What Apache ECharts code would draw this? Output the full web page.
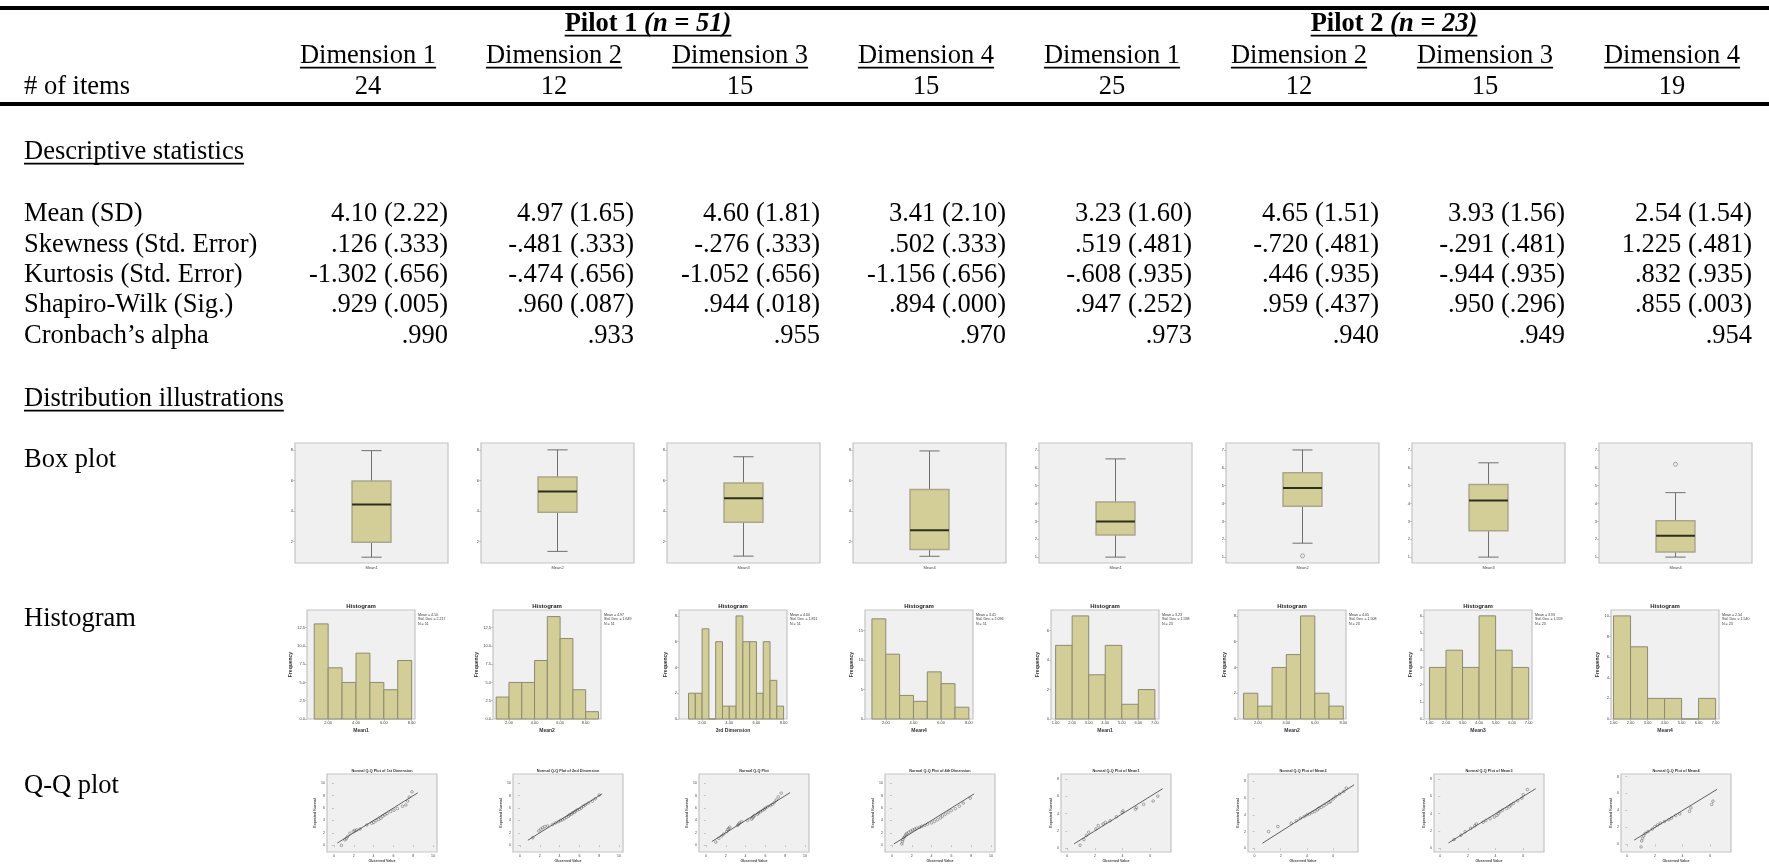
<!DOCTYPE html>
<html>
<head>
<meta charset="utf-8">
<script src="https://cdn.jsdelivr.net/npm/echarts@6/dist/echarts.min.js"></script>
<style>
  html, body { margin: 0; padding: 0; background: #ffffff; }
  #chart { width: 1769px; height: 864px; }
</style>
</head>
<body>
<div id="chart"></div>
<script>
// ---------- table data ----------
const pilotNames = ['Pilot 1', 'Pilot 2'];
const pilotN = [51, 23];
const dimensionNames = ['Dimension 1', 'Dimension 2', 'Dimension 3', 'Dimension 4',
                        'Dimension 1', 'Dimension 2', 'Dimension 3', 'Dimension 4'];
const itemCounts = [24, 12, 15, 15, 25, 12, 15, 19];
const rowLabels = ['Mean (SD)', 'Skewness (Std. Error)', 'Kurtosis (Std. Error)',
                   'Shapiro-Wilk (Sig.)', 'Cronbach\u2019s alpha'];
const means = [4.10, 4.97, 4.60, 3.41, 3.23, 4.65, 3.93, 2.54];
const sds = [2.22, 1.65, 1.81, 2.10, 1.60, 1.51, 1.56, 1.54];
const skewness = [0.126, -0.481, -0.276, 0.502, 0.519, -0.720, -0.291, 1.225];
const skewnessSE = [0.333, 0.333, 0.333, 0.333, 0.481, 0.481, 0.481, 0.481];
const kurtosis = [-1.302, -0.474, -1.052, -1.156, -0.608, 0.446, -0.944, 0.832];
const kurtosisSE = [0.656, 0.656, 0.656, 0.656, 0.935, 0.935, 0.935, 0.935];
const shapiroW = [0.929, 0.960, 0.944, 0.894, 0.947, 0.959, 0.950, 0.855];
const shapiroSig = [0.005, 0.087, 0.018, 0.000, 0.252, 0.437, 0.296, 0.003];
const cronbachAlpha = [0.990, 0.933, 0.955, 0.970, 0.973, 0.940, 0.949, 0.954];

// ---------- box plots: [min, Q1, median, Q3, max] ----------
const boxVarNames = ['Mean1', 'Mean2', 'Mean3', 'Mean4', 'Mean1', 'Mean2', 'Mean3', 'Mean4'];
const boxStats = [
  [0.98, 1.96, 4.42, 5.96, 7.95],
  [1.36, 3.92, 5.28, 6.23, 8.00],
  [1.05, 3.26, 4.84, 5.84, 7.55],
  [1.04, 1.48, 2.74, 5.41, 7.93],
  [1.00, 2.24, 3.00, 4.09, 6.50],
  [1.78, 3.85, 4.87, 5.72, 7.00],
  [1.00, 2.48, 4.17, 5.06, 6.28],
  [1.00, 1.28, 2.19, 3.04, 4.61]
];
const boxOutliers = [[], [], [], [], [], [1.07], [], [6.20]];
const boxTicks = [[2, 4, 6, 8], [2, 4, 6, 8], [2, 4, 6, 8], [2, 4, 6, 8],
                  [1, 2, 3, 4, 5, 6, 7], [1, 2, 3, 4, 5, 6, 7], [1, 2, 3, 4, 5, 6, 7], [1, 2, 3, 4, 5, 6, 7]];

// ---------- histograms ----------
const histVarNames = ['Mean1', 'Mean2', '3rd Dimension', 'Mean4', 'Mean1', 'Mean2', 'Mean3', 'Mean4'];
const histBinStart = [1, 1, 1, 1, 1, 1, 1, 1];
const histBinWidth = [1, 1, 0.5, 1, 1, 1, 1, 1];
const histCounts = [
  [13, 7, 5, 9, 5, 4, 8],
  [3, 5, 5, 8, 14, 11, 4, 1],
  [2, 2, 7, 0, 6, 1, 1, 8, 6, 6, 2, 6, 3, 1],
  [17, 11, 4, 3, 8, 6, 2],
  [5, 7, 3, 5, 1, 2],
  [2, 1, 4, 5, 8, 2, 1],
  [3, 4, 3, 6, 4, 3],
  [10, 7, 2, 2, 0, 2]
];
const histStdDev = [2.217, 1.649, 1.811, 2.096, 1.598, 1.508, 1.559, 1.540];
const histYTicks = [
  [0, 2.5, 5, 7.5, 10, 12.5], [0, 2.5, 5, 7.5, 10, 12.5], [0, 2, 4, 6, 8], [0, 5, 10, 15],
  [0, 2, 4, 6], [0, 2, 4, 6, 8], [0, 1, 2, 3, 4, 5, 6], [0, 2, 4, 6, 8, 10]
];
const histXTicks = [
  [2, 4, 6, 8], [2, 4, 6, 8], [2, 4, 6, 8], [2, 4, 6, 8],
  [1, 2, 3, 4, 5, 6, 7], [2, 4, 6, 8], [1, 2, 3, 4, 5, 6, 7], [1, 2, 3, 4, 5, 6, 7]
];

// ---------- normal Q-Q plots: [observed, expected normal] ----------
const qqTitles = ['Normal Q-Q Plot of 1st Dimension', 'Normal Q-Q Plot of 2nd Dimension',
                  'Normal Q-Q Plot', 'Normal Q-Q Plot of 4th Dimension',
                  'Normal Q-Q Plot of Mean1', 'Normal Q-Q Plot of Mean2',
                  'Normal Q-Q Plot of Mean3', 'Normal Q-Q Plot of Mean4'];
const qqPoints = [
  [[0.75, -0.03], [1.10, 0.87], [1.25, 1.05], [1.37, 1.40], [1.61, 1.93], [1.95, 2.25], [2.10, 2.38],
   [2.29, 2.46], [2.64, 2.62], [3.32, 3.26], [3.80, 3.55], [4.01, 3.68], [4.25, 3.95], [4.52, 4.16],
   [4.73, 4.37], [4.93, 4.69], [5.14, 4.90], [5.38, 5.12], [5.72, 5.44], [6.06, 5.65], [6.40, 5.91],
   [6.92, 6.28], [7.26, 6.50], [7.43, 7.13], [7.60, 7.77], [7.88, 8.62]],
  [[1.30, 1.20], [1.90, 2.30], [2.10, 2.60], [2.30, 2.80], [2.50, 3.00], [2.80, 3.10], [3.30, 3.35],
   [3.60, 3.60], [3.90, 3.80], [4.10, 4.00], [4.30, 4.10], [4.50, 4.30], [4.70, 4.50], [4.90, 4.70],
   [5.00, 4.90], [5.20, 5.00], [5.30, 5.20], [5.50, 5.30], [5.60, 5.50], [5.80, 5.70], [6.00, 5.80],
   [6.20, 6.00], [6.40, 6.30], [6.60, 6.50], [6.90, 6.80], [7.30, 7.10], [7.60, 7.50], [8.00, 8.10]],
  [[1.00, 0.50], [1.30, 1.10], [1.60, 1.50], [1.80, 1.80], [2.10, 2.20], [2.20, 2.50], [2.30, 2.70],
   [2.40, 2.90], [3.20, 3.20], [3.30, 3.40], [3.40, 3.60], [3.60, 3.80], [4.20, 4.00], [4.60, 4.20],
   [4.70, 4.40], [4.80, 4.60], [4.90, 4.80], [5.20, 5.00], [5.30, 5.20], [5.50, 5.40], [5.70, 5.60],
   [5.90, 5.80], [6.00, 6.00], [6.20, 6.20], [6.50, 6.40], [6.70, 6.60], [6.90, 6.90], [7.10, 7.30],
   [7.30, 7.80], [7.60, 8.40]],
  [[1.00, 0.20], [1.05, 0.60], [1.10, 0.90], [1.20, 1.20], [1.30, 1.45], [1.40, 1.70], [1.50, 1.90],
   [1.70, 2.10], [1.90, 2.30], [2.10, 2.45], [2.30, 2.60], [2.50, 2.75], [2.80, 2.90], [3.00, 3.05],
   [3.30, 3.20], [3.60, 3.40], [4.00, 3.60], [4.30, 3.85], [4.60, 4.10], [4.90, 4.40], [5.10, 4.70],
   [5.40, 5.00], [5.70, 5.30], [6.00, 5.60], [6.40, 5.90], [6.80, 6.30], [7.20, 6.80], [7.90, 7.60]],
  [[0.93, 0.33], [1.21, 0.98], [1.38, 1.47], [1.55, 1.85], [2.07, 2.23], [2.24, 2.61], [2.59, 2.80],
   [2.76, 2.99], [3.10, 3.18], [3.55, 3.64], [3.97, 4.13], [4.03, 4.32], [4.93, 4.51], [5.00, 4.70],
   [5.52, 5.08], [6.21, 5.46], [6.55, 6.03]],
  [[1.07, 2.00], [1.78, 2.60], [2.80, 3.00], [3.20, 3.30], [3.50, 3.60], [3.80, 3.80], [4.00, 4.00],
   [4.20, 4.10], [4.40, 4.30], [4.60, 4.40], [4.80, 4.60], [4.90, 4.80], [5.10, 4.90], [5.30, 5.10],
   [5.50, 5.30], [5.70, 5.50], [5.80, 5.60], [6.00, 5.90], [6.20, 6.20], [6.50, 6.50], [6.80, 6.80],
   [7.00, 7.20]],
  [[1.00, 1.00], [1.50, 1.50], [1.80, 1.90], [2.20, 2.30], [2.50, 2.60], [2.60, 2.80], [3.10, 3.00],
   [3.30, 3.20], [3.60, 3.40], [3.90, 3.60], [4.10, 3.80], [4.20, 4.00], [4.30, 4.20], [4.50, 4.40],
   [4.80, 4.60], [5.00, 4.80], [5.10, 5.00], [5.30, 5.20], [5.60, 5.50], [5.90, 5.80], [6.00, 6.20],
   [6.30, 6.80]],
  [[1.00, -0.30], [1.05, 0.40], [1.10, 0.70], [1.20, 1.00], [1.30, 1.30], [1.50, 1.50], [1.80, 1.80],
   [2.00, 2.10], [2.20, 2.30], [2.40, 2.50], [2.70, 2.70], [3.00, 2.90], [3.20, 3.10], [3.50, 3.40],
   [3.80, 3.60], [4.50, 3.90], [4.60, 4.30], [6.10, 4.70], [6.20, 5.10]]
];
const qqLineRange = [[0.34, 8.46], [0.80, 8.30], [0.60, 8.50], [0.20, 8.30],
                     [0.50, 6.90], [0.60, 7.60], [0.60, 6.90], [0.50, 6.50]];

// ---------- layout ----------
const colRight = [448, 634, 820, 1006, 1192, 1379, 1565, 1752];
const colCenter = colRight.map(r => r - 80);
const pilotCenter = [648, 1394];
const SERIF = '"Liberation Serif", "Times New Roman", serif';
const SANS = '"Liberation Sans", Arial, sans-serif';
const FS = 26.5;
const BODY_FONT = FS + 'px ' + SERIF;
const rowY = [214, 245, 275, 305, 336];

const boxRange = [[0.6, 8.45], [0.6, 8.45], [0.6, 8.45], [0.6, 8.45],
                  [0.67, 7.39], [0.67, 7.39], [0.67, 7.39], [0.67, 7.39]];
const histXRange = [[0.48, 8.24], [0.75, 9.2], [0.3, 8.25], [0.5, 8.3],
                    [0.72, 7.25], [0.61, 8.19], [0.67, 7.2], [0.85, 7.2]];
const histYMax = [14.9, 14.9, 8.46, 18.5, 7.4, 8.46, 6.34, 10.57];
const qqXRange = [[-0.7, 10.4], [-0.7, 10.4], [-0.7, 10.4], [-0.7, 10.4],
                  [-0.45, 7.5], [-0.5, 7.9], [-0.45, 7.5], [-0.45, 7.5]];
const qqYRange = [[-1.1, 11.5], [-1.1, 11.5], [-1.1, 11.5], [-1.1, 11.5],
                  [-0.45, 8.6], [-0.45, 8.9], [-0.45, 8.6], [-0.9, 8.3]];
const qqXTicks = [[0, 2, 4, 6, 8, 10], [0, 2, 4, 6, 8, 10], [0, 2, 4, 6, 8, 10], [0, 2, 4, 6, 8, 10],
                  [0, 2, 4, 6], [0, 2, 4, 6], [0, 2, 4, 6], [0, 2, 4, 6]];
const qqYTicks = [[0, 2, 4, 6, 8, 10], [0, 2, 4, 6, 8, 10], [0, 2, 4, 6, 8, 10], [0, 2, 4, 6, 8, 10],
                  [0, 2, 4, 6, 8], [0, 2, 4, 6, 8], [0, 2, 4, 6, 8], [0, 2, 4, 6, 8]];
const qqRightInset = [11, 11, 11, 11, 21, 21, 21, 21];

const KHAKI = '#d3ce97';
const FRAME_BG = '#f0f0f0';
const FRAME_BORDER = '#c3c3c3';

// ---------- helpers ----------
const measureCtx = document.createElement('canvas').getContext('2d');
function textWidth(text, font) { measureCtx.font = font; return measureCtx.measureText(text).width; }
function fmt3(v) { return v.toFixed(3).replace(/^(-?)0\./, '$1.'); }

const graphics = [];
function addText(x, y, text, align, font, extra) {
  graphics.push({
    type: 'text', x: x, y: y, silent: true,
    style: Object.assign({
      text: text, font: font || BODY_FONT, fill: '#000',
      textAlign: align || 'left', textVerticalAlign: 'middle',
      align: align || 'left', verticalAlign: 'middle'
    }, extra || {})
  });
}
function addRule(x1, y1, x2, y2, w) {
  graphics.push({ type: 'line', silent: true, shape: { x1: x1, y1: y1, x2: x2, y2: y2 },
                  style: { stroke: '#000', lineWidth: w } });
}
function underline(cx, y, width, align) {
  let x1 = cx;
  if (align === 'center') x1 = cx - width / 2;
  else if (align === 'right') x1 = cx - width;
  addRule(x1, y + FS * 0.44, x1 + width, y + FS * 0.44, 1.6);
}

// ---------- table text ----------
addRule(0, 8, 1769, 8, 4);
addRule(0, 104, 1769, 104, 4);

const boldFont = 'bold ' + FS + 'px ' + SERIF;
const boldItalicFont = 'italic bold ' + FS + 'px ' + SERIF;
pilotNames.forEach((p, k) => {
  const a = p + ' ';
  const b = '(n = ' + pilotN[k] + ')';
  const wa = textWidth(a, boldFont), wb = textWidth(b, boldItalicFont);
  const left = pilotCenter[k] - (wa + wb) / 2;
  addText(left, 24, a, 'left', boldFont);
  addText(left + wa, 24, b, 'left', boldItalicFont);
  underline(left, 24, wa + wb, 'left');
});

dimensionNames.forEach((d, i) => {
  addText(colCenter[i], 56, d, 'center');
  underline(colCenter[i], 56, textWidth(d, BODY_FONT), 'center');
  addText(colCenter[i], 87, String(itemCounts[i]), 'center');
});
addText(24, 87, '# of items', 'left');

addText(24, 152, 'Descriptive statistics', 'left');
underline(24, 152, textWidth('Descriptive statistics', BODY_FONT), 'left');
rowLabels.forEach((r, j) => addText(24, rowY[j], r, 'left'));
for (let i = 0; i < 8; i++) {
  addText(colRight[i], rowY[0], means[i].toFixed(2) + ' (' + sds[i].toFixed(2) + ')', 'right');
  addText(colRight[i], rowY[1], fmt3(skewness[i]) + ' (' + fmt3(skewnessSE[i]) + ')', 'right');
  addText(colRight[i], rowY[2], fmt3(kurtosis[i]) + ' (' + fmt3(kurtosisSE[i]) + ')', 'right');
  addText(colRight[i], rowY[3], fmt3(shapiroW[i]) + ' (' + fmt3(shapiroSig[i]) + ')', 'right');
  addText(colRight[i], rowY[4], fmt3(cronbachAlpha[i]), 'right');
}
addText(24, 399, 'Distribution illustrations', 'left');
underline(24, 399, textWidth('Distribution illustrations', BODY_FONT), 'left');
addText(24, 460, 'Box plot', 'left');
addText(24, 619, 'Histogram', 'left');
addText(24, 786, 'Q-Q plot', 'left');

// ---------- small charts ----------
const grids = [], xAxes = [], yAxes = [], series = [];
function addGrid(rect, xAxis, yAxis) {
  const gi = grids.length;
  grids.push(Object.assign({ show: true, backgroundColor: FRAME_BG, borderColor: FRAME_BORDER,
                             borderWidth: 1.2, containLabel: false }, rect));
  xAxes.push(Object.assign({ gridIndex: gi }, xAxis));
  yAxes.push(Object.assign({ gridIndex: gi }, yAxis));
  return gi;
}
const tinyLabel = (size, extra) => Object.assign({ fontSize: size, color: '#444', fontFamily: SANS, margin: 2 }, extra || {});
function valueAxis(min, max, ticks, labelSize, formatter, extra) {
  return Object.assign({
    type: 'value', min: min, max: max,
    axisLine: { show: false }, splitLine: { show: false },
    axisTick: { show: true, length: 2, lineStyle: { color: '#999', width: 0.5 }, customValues: ticks },
    axisLabel: tinyLabel(labelSize, { customValues: ticks, formatter: formatter })
  }, extra || {});
}

// box plots
function boxRender(params, api) {
  const xv = api.value(0);
  const cx = api.coord([xv, api.value(3)])[0];
  const band = api.size([1, 0])[0];
  const y = k => api.coord([xv, api.value(k)])[1];
  const yMin = y(1), yQ1 = y(2), yMed = y(3), yQ3 = y(4), yMax = y(5);
  const hw = band * 0.127, cw = band * 0.066;
  const ws = { stroke: '#6f6f6f', lineWidth: 1 };
  return {
    type: 'group',
    children: [
      { type: 'line', shape: { x1: cx, y1: yMax, x2: cx, y2: yQ3 }, style: ws },
      { type: 'line', shape: { x1: cx, y1: yQ1, x2: cx, y2: yMin }, style: ws },
      { type: 'line', shape: { x1: cx - cw, y1: yMax, x2: cx + cw, y2: yMax }, style: ws },
      { type: 'line', shape: { x1: cx - cw, y1: yMin, x2: cx + cw, y2: yMin }, style: ws },
      { type: 'rect', shape: { x: cx - hw, y: yQ3, width: 2 * hw, height: yQ1 - yQ3 },
        style: { fill: KHAKI, stroke: '#a9a68b', lineWidth: 1.5 } },
      { type: 'line', shape: { x1: cx - hw, y1: yMed, x2: cx + hw, y2: yMed },
        style: { stroke: '#2e2e1e', lineWidth: 2 } }
    ]
  };
}
for (let i = 0; i < 8; i++) {
  const gi = addGrid(
    { left: colRight[i] - 153, top: 443, width: 153, height: 120 },
    { type: 'category', data: [boxVarNames[i]], axisLine: { show: false }, axisTick: { show: false },
      axisLabel: tinyLabel(4, { margin: 3 }) },
    valueAxis(boxRange[i][0], boxRange[i][1], boxTicks[i], 4, v => String(v))
  );
  series.push({ type: 'custom', xAxisIndex: gi, yAxisIndex: gi, silent: true,
                data: [[0].concat(boxStats[i])], encode: { x: 0, y: [1, 2, 3, 4, 5] },
                renderItem: boxRender });
  if (boxOutliers[i].length) {
    series.push({ type: 'scatter', xAxisIndex: gi, yAxisIndex: gi, silent: true,
                  data: boxOutliers[i].map(v => [0, v]), symbol: 'circle', symbolSize: 4,
                  itemStyle: { color: 'rgba(0,0,0,0)', borderColor: '#777', borderWidth: 0.8 } });
  }
}

// histograms
function histRender(params, api) {
  const p0 = api.coord([api.value(0), api.value(2)]);
  const p1 = api.coord([api.value(1), 0]);
  return { type: 'rect', shape: { x: p0[0], y: p0[1], width: p1[0] - p0[0], height: p1[1] - p0[1] },
           style: { fill: KHAKI, stroke: '#8d8a70', lineWidth: 1 } };
}
for (let i = 0; i < 8; i++) {
  const right = colRight[i] - 33, width = 108, top = 610, height = 109;
  const yFmt = histYTicks[i].some(v => v % 1 !== 0) ? (v => v.toFixed(1)) : (v => String(v));
  const gi = addGrid(
    { left: right - width, top: top, width: width, height: height },
    valueAxis(histXRange[i][0], histXRange[i][1], histXTicks[i], 4, v => v.toFixed(2),
      { name: histVarNames[i], nameLocation: 'middle', nameGap: 9,
        nameTextStyle: { fontSize: 5, fontWeight: 'bold', color: '#333', fontFamily: SANS } }),
    valueAxis(0, histYMax[i], histYTicks[i], 4, yFmt,
      { name: 'Frequency', nameLocation: 'middle', nameGap: 11,
        nameTextStyle: { fontSize: 5, fontWeight: 'bold', color: '#333', fontFamily: SANS } })
  );
  const bins = histCounts[i].map((c, k) => [histBinStart[i] + k * histBinWidth[i],
                                            histBinStart[i] + (k + 1) * histBinWidth[i], c]);
  series.push({ type: 'custom', xAxisIndex: gi, yAxisIndex: gi, silent: true, data: bins,
                encode: { x: [0, 1], y: 2 }, renderItem: histRender });
  addText(right - width / 2, top - 4, 'Histogram', 'center', 'bold 6px ' + SANS, { fill: '#222' });
  addText(right + 3, top + 9, 'Mean = ' + means[i].toFixed(2) + '\nStd. Dev. = ' + histStdDev[i].toFixed(3) +
          '\nN = ' + pilotN[i < 4 ? 0 : 1], 'left', '3.6px ' + SANS, { fill: '#333', lineHeight: 4.5 });
}

// normal Q-Q plots
for (let i = 0; i < 8; i++) {
  const right = colRight[i] - qqRightInset[i], width = 110, top = 774, height = 81;
  const gi = addGrid(
    { left: right - width, top: top, width: width, height: height },
    valueAxis(qqXRange[i][0], qqXRange[i][1], qqXTicks[i], 3.5, v => String(v),
      { name: 'Observed Value', nameLocation: 'middle', nameGap: 7,
        nameTextStyle: { fontSize: 3.6, fontWeight: 'bold', color: '#444', fontFamily: SANS } }),
    valueAxis(qqYRange[i][0], qqYRange[i][1], qqYTicks[i], 3.5, v => String(v),
      { name: 'Expected Normal', nameLocation: 'middle', nameGap: 8,
        nameTextStyle: { fontSize: 3.6, fontWeight: 'bold', color: '#444', fontFamily: SANS } })
  );
  series.push({ type: 'line', xAxisIndex: gi, yAxisIndex: gi, silent: true, symbol: 'none',
                data: [[qqLineRange[i][0], qqLineRange[i][0]], [qqLineRange[i][1], qqLineRange[i][1]]],
                lineStyle: { color: '#3a3a3a', width: 0.8 } });
  series.push({ type: 'scatter', xAxisIndex: gi, yAxisIndex: gi, silent: true, data: qqPoints[i],
                symbol: 'circle', symbolSize: 2.6,
                itemStyle: { color: 'rgba(0,0,0,0)', borderColor: '#555', borderWidth: 0.6 } });
  addText(right - width / 2, top - 3, qqTitles[i], 'center', 'bold 3.8px ' + SANS, { fill: '#333' });
}

const chart = echarts.init(document.getElementById('chart'), null, { renderer: 'canvas' });
chart.setOption({
  animation: false,
  backgroundColor: '#ffffff',
  grid: grids,
  xAxis: xAxes,
  yAxis: yAxes,
  series: series,
  graphic: { elements: graphics }
});
</script>
</body>
</html>
